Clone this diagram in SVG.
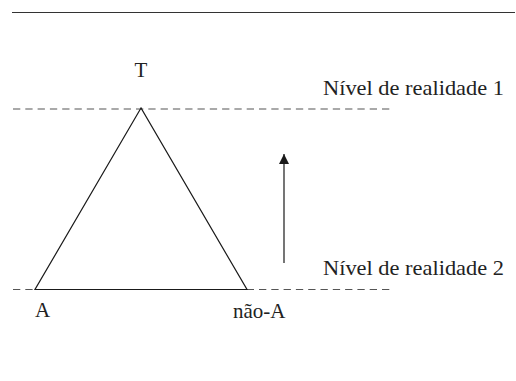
<svg xmlns="http://www.w3.org/2000/svg" width="516" height="381" viewBox="0 0 516 381">
<defs>
<style>
.t{font-family:"Liberation Serif","Times New Roman",serif;font-size:21px;fill:#222}
.d{stroke:#555;stroke-width:1.2;stroke-dasharray:7.3 5;fill:none}
.s{stroke:#1a1a1a;stroke-width:1.2;fill:none}
</style>
<marker id="ah" viewBox="0 0 10 10" refX="10" refY="5" markerWidth="10" markerHeight="10" markerUnits="userSpaceOnUse" orient="auto">
<path d="M0,0 L10,5 L0,10 z" fill="#1a1a1a"/>
</marker>
</defs>
<rect width="516" height="381" fill="#fff"/>
<line x1="12" y1="12.5" x2="515" y2="12.5" stroke="#333" stroke-width="1.2"/>
<g id="connectors">
<line class="d" x1="13" y1="109" x2="390" y2="109"/>
<line class="d" x1="13" y1="289.5" x2="390" y2="289.5"/>
<line class="s" x1="284" y1="263" x2="284" y2="154" marker-end="url(#ah)"/>
</g>
<g id="triangle">
<polygon class="s" points="141,108 35,289.5 247,289.5" stroke-linejoin="miter"/>
</g>
<g id="node-T"><text class="t" x="141" y="77" text-anchor="middle">T</text></g>
<g id="node-A"><text class="t" x="35" y="317">A</text></g>
<g id="node-naoA"><text class="t" x="233" y="318">não-A</text></g>
<g id="level1"><text class="t" x="323" y="95" textLength="181" lengthAdjust="spacingAndGlyphs">Nível de realidade 1</text></g>
<g id="level2"><text class="t" x="323" y="275" textLength="181" lengthAdjust="spacingAndGlyphs">Nível de realidade 2</text></g>
</svg>
